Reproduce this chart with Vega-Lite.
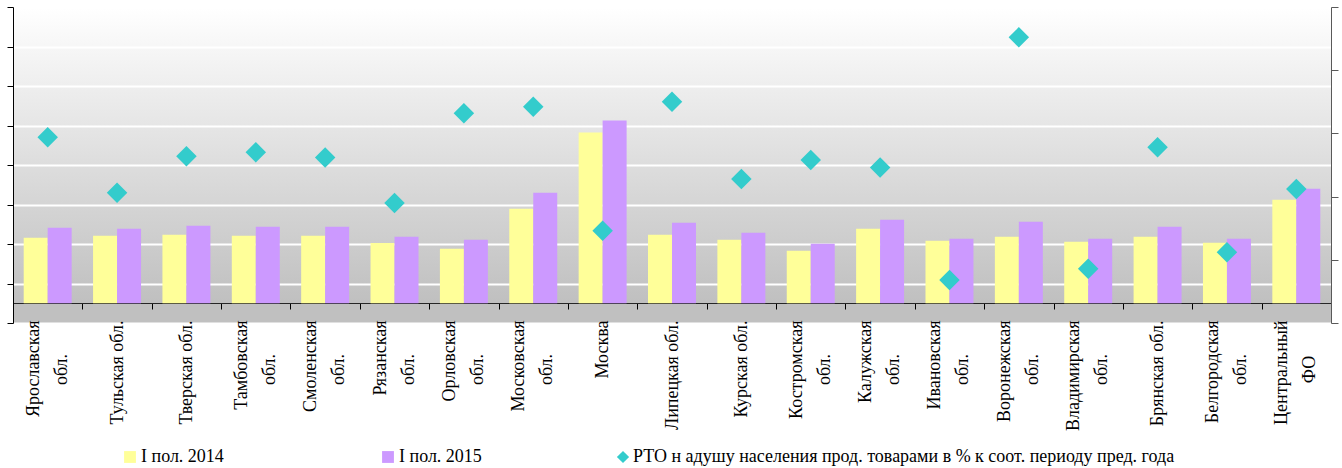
{
  "$schema": "https://vega.github.io/schema/vega-lite/v6.json",
  "autosize": {"type": "none"},
  "width": 1318,
  "height": 316,
  "padding": {"left": 13, "top": 7, "right": 11, "bottom": 145},
  "background": "white",
  "config": {
    "view": {
      "stroke": null,
      "fill": {"gradient": "linear", "x1": 0, "y1": 0, "x2": 0, "y2": 1,
        "stops": [{"offset": 0, "color": "#ffffff"}, {"offset": 0.93, "color": "#c0c0c0"}, {"offset": 1, "color": "#c0c0c0"}]}
    },
    "font": "Liberation Serif",
    "axis": {"labelFont": "Liberation Serif", "title": null},
    "legend": {"labelFont": "Liberation Serif"}
  },
  "datasets": {
    "bars": [
      {"region": "Ярославская обл.", "series": "I пол. 2014", "value": 1657},
      {"region": "Ярославская обл.", "series": "I пол. 2015", "value": 1911},
      {"region": "Тульская обл.", "series": "I пол. 2014", "value": 1708},
      {"region": "Тульская обл.", "series": "I пол. 2015", "value": 1886},
      {"region": "Тверская обл.", "series": "I пол. 2014", "value": 1734},
      {"region": "Тверская обл.", "series": "I пол. 2015", "value": 1962},
      {"region": "Тамбовская обл.", "series": "I пол. 2014", "value": 1708},
      {"region": "Тамбовская обл.", "series": "I пол. 2015", "value": 1937},
      {"region": "Смоленская обл.", "series": "I пол. 2014", "value": 1708},
      {"region": "Смоленская обл.", "series": "I пол. 2015", "value": 1937},
      {"region": "Рязанская обл.", "series": "I пол. 2014", "value": 1523},
      {"region": "Рязанская обл.", "series": "I пол. 2015", "value": 1683},
      {"region": "Орловская обл.", "series": "I пол. 2014", "value": 1378},
      {"region": "Орловская обл.", "series": "I пол. 2015", "value": 1607},
      {"region": "Московская обл.", "series": "I пол. 2014", "value": 2393},
      {"region": "Московская обл.", "series": "I пол. 2015", "value": 2800},
      {"region": "Москва", "series": "I пол. 2014", "value": 4322},
      {"region": "Москва", "series": "I пол. 2015", "value": 4627},
      {"region": "Липецкая обл.", "series": "I пол. 2014", "value": 1734},
      {"region": "Липецкая обл.", "series": "I пол. 2015", "value": 2038},
      {"region": "Курская обл.", "series": "I пол. 2014", "value": 1607},
      {"region": "Курская обл.", "series": "I пол. 2015", "value": 1784},
      {"region": "Костромская обл.", "series": "I пол. 2014", "value": 1327},
      {"region": "Костромская обл.", "series": "I пол. 2015", "value": 1505},
      {"region": "Калужская обл.", "series": "I пол. 2014", "value": 1886},
      {"region": "Калужская обл.", "series": "I пол. 2015", "value": 2114},
      {"region": "Ивановская обл.", "series": "I пол. 2014", "value": 1581},
      {"region": "Ивановская обл.", "series": "I пол. 2015", "value": 1632},
      {"region": "Воронежская обл.", "series": "I пол. 2014", "value": 1683},
      {"region": "Воронежская обл.", "series": "I пол. 2015", "value": 2063},
      {"region": "Владимирская обл.", "series": "I пол. 2014", "value": 1556},
      {"region": "Владимирская обл.", "series": "I пол. 2015", "value": 1632},
      {"region": "Брянская обл.", "series": "I пол. 2014", "value": 1683},
      {"region": "Брянская обл.", "series": "I пол. 2015", "value": 1937},
      {"region": "Белгородская обл.", "series": "I пол. 2014", "value": 1530},
      {"region": "Белгородская обл.", "series": "I пол. 2015", "value": 1632},
      {"region": "Центральный ФО", "series": "I пол. 2014", "value": 2622},
      {"region": "Центральный ФО", "series": "I пол. 2015", "value": 2901}
    ],
    "rto": [
      {"region": "Ярославская обл.", "rto": 99.7},
      {"region": "Тульская обл.", "rto": 95.3},
      {"region": "Тверская обл.", "rto": 98.2},
      {"region": "Тамбовская обл.", "rto": 98.5},
      {"region": "Смоленская обл.", "rto": 98.1},
      {"region": "Рязанская обл.", "rto": 94.5},
      {"region": "Орловская обл.", "rto": 101.6},
      {"region": "Московская обл.", "rto": 102.1},
      {"region": "Москва", "rto": 92.3},
      {"region": "Липецкая обл.", "rto": 102.5},
      {"region": "Курская обл.", "rto": 96.4},
      {"region": "Костромская обл.", "rto": 97.9},
      {"region": "Калужская обл.", "rto": 97.3},
      {"region": "Ивановская обл.", "rto": 88.4},
      {"region": "Воронежская обл.", "rto": 107.6},
      {"region": "Владимирская обл.", "rto": 89.3},
      {"region": "Брянская обл.", "rto": 98.9},
      {"region": "Белгородская обл.", "rto": 90.6},
      {"region": "Центральный ФО", "rto": 95.6}
    ]
  },
  "layer": [
    {
      "data": {"name": "bars"},
      "transform": [{"filter": "datum.series == 'I пол. 2014'"}],
      "mark": {"type": "bar"},
      "encoding": {
        "x": {
          "field": "region", "type": "nominal", "sort": null,
          "scale": {"paddingInner": 0, "paddingOuter": 0},
          "axis": {
            "orient": "bottom", "offset": -20, "tickBand": "extent", "tickSize": 6,
            "tickColor": "#000000", "domainColor": "#262626", "domainWidth": 1,
            "labelAngle": -90, "labelFontSize": 18, "labelColor": "#000000",
            "labelPadding": 11, "labelLimit": 300,
            "labelExpr": "length(datum.label) > 13 ? '' : datum.label",
            "title": null
          }
        },
        "xOffset": {"field": "series", "type": "nominal", "scale": {"domain": ["I пол. 2014", "I пол. 2015"], "paddingInner": 0, "paddingOuter": 0.446}},
        "y": {
          "field": "value", "type": "quantitative",
          "scale": {"domain": [-500, 7500], "nice": false, "zero": false},
          "axis": {
            "orient": "left", "values": [-500, 500, 1500, 2500, 3500, 4500, 5500, 6500, 7500],
            "labels": false, "tickSize": 6, "tickColor": "#000000", "domainColor": "#000000",
            "grid": true, "gridColor": "#ffffff", "gridWidth": 2, "gridOpacity": 1, "title": null
          }
        },
        "color": {
          "field": "series", "type": "nominal",
          "scale": {"domain": ["I пол. 2014", "I пол. 2015"], "range": ["#FFFF99", "#CC99FF"]},
          "legend": {
            "orient": "none", "legendX": 108, "legendY": 441, "direction": "horizontal",
            "columns": 2, "columnPadding": 155, "title": null, "labelFontSize": 18,
            "labelColor": "#000000", "symbolType": "square", "symbolSize": 140,
            "symbolStrokeWidth": 0, "labelOffset": 2, "padding": 0
          }
        }
      }
    },
    {
      "data": {"name": "bars"},
      "transform": [{"filter": "datum.series == 'I пол. 2015'"}],
      "mark": {"type": "bar"},
      "encoding": {
        "x": {
          "field": "region", "type": "nominal", "sort": null,
          "axis": {
            "orient": "bottom", "offset": -20, "domain": false, "ticks": false, "grid": false,
            "labelAngle": -90, "labelAlign": "right", "labelFontSize": 18, "labelColor": "#000000",
            "labelPadding": 17, "labelLimit": 300, "labelOffset": -14,
            "labelExpr": "length(datum.label) > 13 ? split(datum.label, ' ')[0] : ''",
            "title": null
          }
        },
        "xOffset": {"field": "series", "type": "nominal"},
        "y": {
          "field": "value", "type": "quantitative",
          "scale": {"domain": [-500, 7500], "nice": false, "zero": false},
          "axis": null
        },
        "color": {"field": "series", "type": "nominal"}
      }
    },
    {
      "data": {"name": "rto"},
      "mark": {"type": "point", "shape": "diamond", "filled": true, "size": 420, "opacity": 1, "color": "#33CCCC", "strokeWidth": 0},
      "encoding": {
        "x": {
          "field": "region", "type": "nominal", "sort": null,
          "axis": {
            "orient": "bottom", "offset": -20, "domain": false, "ticks": false, "grid": false,
            "labelAngle": -90, "labelAlign": "center", "labelFontSize": 18, "labelColor": "#000000",
            "labelPadding": 66, "labelLimit": 300, "labelOffset": 14,
            "labelExpr": "length(datum.label) > 13 ? split(datum.label, ' ')[1] : ''",
            "title": null
          }
        },
        "y": {
          "field": "rto", "type": "quantitative",
          "scale": {"domain": [85, 110], "nice": false, "zero": false},
          "axis": {
            "orient": "right", "values": [85, 90, 95, 100, 105, 110], "labels": false,
            "tickSize": 7, "tickColor": "#595959", "domainColor": "#595959", "grid": false, "title": null
          }
        },
        "shape": {
          "datum": "РТО н адушу населения прод. товарами в % к соот. периоду пред. года",
          "scale": {"range": ["diamond"]},
          "legend": {
            "orient": "none", "legendX": 601, "legendY": 441, "title": null, "labelFontSize": 18,
            "labelColor": "#000000", "symbolSize": 150, "symbolFillColor": "#33CCCC",
            "symbolStrokeWidth": 0, "labelOffset": 1, "labelLimit": 700, "padding": 0
          }
        }
      }
    }
  ],
  "resolve": {"scale": {"y": "independent"}, "axis": {"x": "independent"}}
}
